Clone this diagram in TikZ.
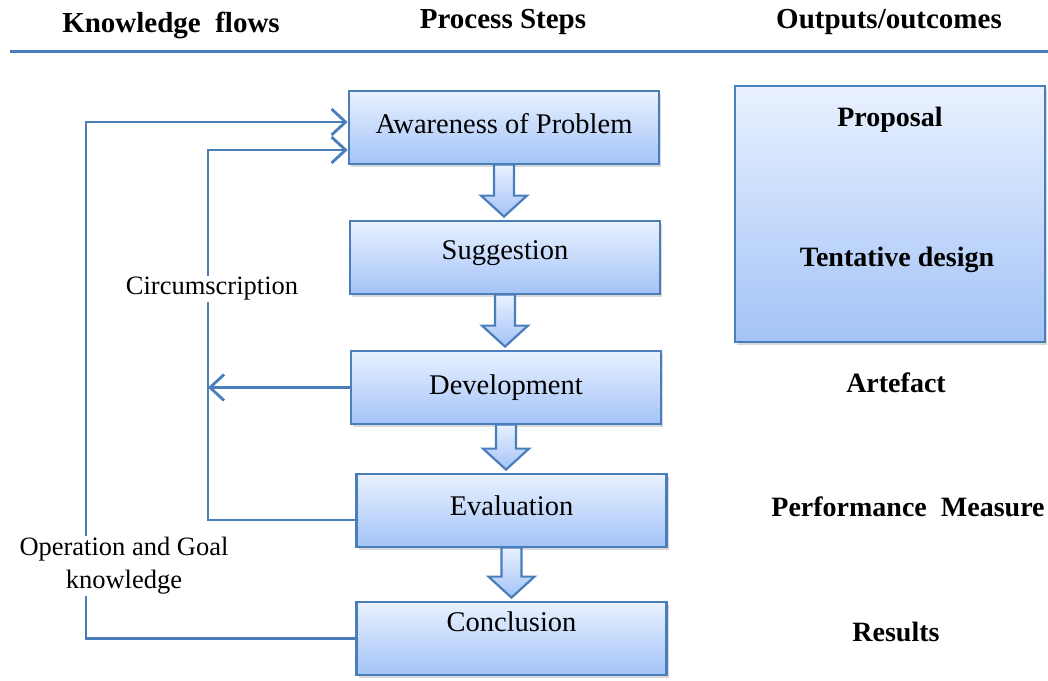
\documentclass[tikz,border=0pt]{standalone}
\usepackage{fontspec}
\setmainfont{Liberation Serif}
\usetikzlibrary{calc,shadows,arrows.meta}

\definecolor{boxedge}{RGB}{74,126,187}
\definecolor{boxtop}{RGB}{233,241,255}
\definecolor{boxbot}{RGB}{163,195,247}

\tikzset{
	stepbox/.style={rectangle, draw=boxedge, line width=2.8pt, top color=boxtop, bottom color=boxbot, minimum width=310pt, minimum height=73pt, align=center, font=\fontsize{28.5}{34}\selectfont, drop shadow={shadow xshift=2pt, shadow yshift=-3pt, opacity=0.3}},
	headtext/.style={font=\bfseries\fontsize{29}{34}\selectfont},
	outtext/.style={font=\bfseries\fontsize{28}{33}\selectfont},
	flowlabel/.style={fill=white, inner sep=1pt, align=center, font=\fontsize{26.5}{33}\selectfont},
	flow/.style={draw=boxedge, line width=2.8pt, -{Straight Barb[length=14pt,width=26pt]}},
	bigarrow/.style={draw=boxedge, line width=2.2pt, top color=boxtop, bottom color=boxbot, line join=miter}
}

\begin{document}
\begin{tikzpicture}[x=1pt, y=-1pt]
	\useasboundingbox (0,0) rectangle (1048,680);

	% column heads
	\node[headtext] (hknow) at (171,25) {Knowledge\ \ flows};
	\node[headtext] (hproc) at (503,22) {Process Steps};
	\node[headtext] (hout) at (889,22) {Outputs/outcomes};
	\draw[boxedge, line width=3pt] (10,51) -- (1048,51);

	% process steps
	\node[stepbox] (aware) at (504,127.5) {Awareness of Problem\\[-25pt]\mbox{}};
	\node[stepbox] (sugg) at (505,257.5) {Suggestion\\[-19pt]\mbox{}};
	\node[stepbox] (devel) at (506,387.5) {Development};
	\node[stepbox] (evalu) at (511.5,510.5) {Evaluation\\[-25pt]\mbox{}};
	\node[stepbox] (concl) at (511.5,638.5) {Conclusion\\ \mbox{}};

	\foreach \a/\b in {aware/sugg, sugg/devel, devel/evalu, evalu/concl}{
		\coordinate (top) at ($(\a.south)+(0,-1)$);
		\coordinate (tip) at ($(\a.south |- \b.north)+(0,-3)$);
		\draw[bigarrow] ($(top)+(-10,0)$) -- ($(tip)+(-10,-21)$) -- ($(tip)+(-23,-21)$) -- (tip)
			-- ($(tip)+(23,-21)$) -- ($(tip)+(10,-21)$) -- ($(top)+(10,0)$) -- cycle;
	}

	% outputs
	\node[stepbox, minimum width=310pt, minimum height=256pt] (outbox) at (890,214) {};
	\node[outtext] (prop) at (890,120) {Proposal};
	\node[outtext] (tent) at (897,260) {Tentative design};
	\node[outtext] (arte) at (896,383) {Artefact};
	\node[outtext] (perf) at (908,507) {Performance\ \ Measure};
	\node[outtext] (resu) at (896,632) {Results};

	% knowledge flows
	\coordinate (outer) at (86,0);
	\coordinate (inner) at (208,0);
	\coordinate (aw1) at ([yshift=5.5pt]aware.west);
	\coordinate (aw2) at ([yshift=-22.5pt]aware.west);
	\coordinate (ev1) at ([yshift=-9.5pt,xshift=3pt]evalu.west);

	\draw[flow] (concl.west) -| (outer |- aw1) -- (aw1);
	\draw[flow] (ev1) -| (inner |- aw2) -- (aw2);
	\draw[flow] (devel.west) -- (inner |- devel.west);

	\node[flowlabel] (circ) at (212,289) {Circumscription};
	\node[flowlabel] (opgo) at (124,566) {Operation and Goal\\knowledge};
\end{tikzpicture}
\end{document}
